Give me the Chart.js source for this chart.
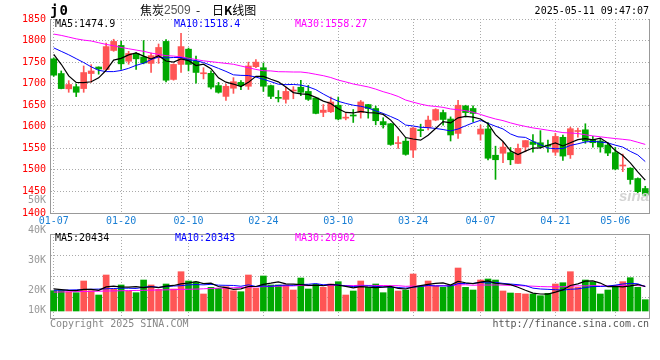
<!DOCTYPE html>
<html><head><meta charset="utf-8">
<script src="https://cdn.jsdelivr.net/npm/chart.js@4/dist/chart.umd.min.js"></script>
<style>
html,body{margin:0;padding:0;background:#fff;}
#wrap{position:relative;width:660px;height:360px;overflow:hidden;background:#fff;}
canvas{position:absolute;left:0;top:0;}
.t{position:absolute;white-space:nowrap;font-family:"DejaVu Sans Mono",monospace;font-size:10px;line-height:12px;}
</style></head><body>
<div id="wrap">
<canvas id="main" width="660" height="230"></canvas>
<canvas id="vol" width="660" height="360"></canvas>
<div class="t" style="left:50px;top:2px;font-size:14px;line-height:16px;font-weight:bold;letter-spacing:1px">j0</div>
<div class="t" style="left:140px;top:3px;font-family:'Noto Sans CJK SC';font-size:12px;line-height:14px">焦炭</div>
<div class="t" style="left:164px;top:3px;font-family:'Liberation Sans';font-size:12px;line-height:14px;color:#555">2509</div>
<div class="t" style="left:196px;top:3px;font-family:'Noto Sans CJK SC';font-size:12px;line-height:14px">-</div>
<div class="t" style="left:212px;top:3px;font-family:'Noto Sans CJK SC';font-size:12px;line-height:14px">日<b>K</b>线图</div>
<div class="t" style="right:11px;top:5px">2025-05-11 09:47:07</div>
<div class="t" style="left:55px;top:18px;color:#000">MA5:1474.9</div>
<div class="t" style="left:174px;top:18px;color:#0000ff">MA10:1518.4</div>
<div class="t" style="left:295px;top:18px;color:#ff00ff">MA30:1558.27</div>
<div class="t" style="left:55px;top:232px;color:#000">MA5:20434</div>
<div class="t" style="left:175px;top:232px;color:#0000ff">MA10:20343</div>
<div class="t" style="left:295px;top:232px;color:#ff00ff">MA30:20902</div>
<div class="t" style="left:50px;top:318px;color:#888">Copyright 2025 SINA.COM</div>
<div class="t" style="right:11px;top:318px;color:#555">http://finance.sina.com.cn</div>
<div class="t" style="left:619px;top:187px;font-family:'Liberation Sans';font-style:italic;font-weight:bold;font-size:15px;line-height:18px;color:#d4d4d4">sina</div>
</div>
<script>
const dates = ['01-07','01-08','01-09','01-10','01-13','01-14','01-15','01-16','01-17','01-20',
'01-21','01-22','01-23','01-24','01-27','02-05','02-06','02-07','02-10','02-11',
'02-12','02-13','02-14','02-17','02-18','02-19','02-20','02-21','02-24','02-25',
'02-26','02-27','02-28','03-03','03-04','03-05','03-06','03-07','03-10','03-11',
'03-12','03-13','03-14','03-17','03-18','03-19','03-20','03-21','03-24','03-25',
'03-26','03-27','03-28','03-31','04-01','04-02','04-03','04-07','04-08','04-09',
'04-10','04-11','04-14','04-15','04-16','04-17','04-18','04-21','04-22','04-23',
'04-24','04-25','04-28','04-29','04-30','05-06','05-07','05-08','05-09','05-12'];
const tickLabels = ['01-07','01-20','02-10','02-24','03-10','03-24','04-07','04-21','05-06'];

const open = [1757.6,1723.5,1688,1693,1688.6,1723.5,1738.6,1733,1777,1788.6,
1752,1770,1762,1747,1760,1798,1709.8,1744.7,1780,1752,
1723,1724,1695.5,1670.5,1689.4,1703,1694,1739.4,1737,1695.5,
1668,1663.6,1683,1691.7,1682,1666.7,1633.3,1634.8,1650,1620,
1627,1633,1651.5,1642.4,1612,1607,1561,1566.7,1546,1593,
1598,1615.5,1633,1618,1584.6,1648.5,1642.5,1583,1595,1534,
1538.6,1540,1515,1553,1565,1563,1556,1541,1575.6,1535,
1589,1593,1570,1567,1557.6,1540,1509,1504,1480,1456.8];
const high = [1760,1729.5,1707,1699,1741,1744,1739,1794,1803,1798,
1775,1772,1800,1771,1792,1802,1746,1817,1782.6,1764,
1737,1729.5,1703,1699,1714,1707,1750,1756,1748,1697,
1684,1692,1693,1708,1696,1667,1651.5,1669,1669,1631,
1640,1661,1652,1648,1621,1608,1577,1574,1599,1606,
1625,1642,1638.5,1623,1661.6,1650,1648.5,1604,1610,1555,
1564.4,1552,1560,1568,1582,1591,1569,1585,1581,1599,
1597,1607,1577.6,1572,1563,1552,1536.6,1505,1481.5,1462];
const low = [1717,1688,1680,1670,1680,1703,1722,1733,1775,1733,
1745,1733,1746,1726,1747,1704,1708,1726,1729.6,1701,
1711,1688,1678,1661,1677.5,1686,1686.6,1737,1682,1665,
1657.6,1655,1665,1672,1661,1630,1623.5,1633,1616,1616,
1610,1620,1620,1604.5,1597,1557,1550,1534,1529,1577,
1593,1614,1604,1567,1573,1623,1611.5,1569,1523,1478,
1517,1512,1515,1542,1541,1551,1541,1533.6,1522,1526.6,
1576,1561.6,1552.6,1541,1533,1500,1496,1467,1447,1441];
const close = [1719.7,1688.6,1698,1680,1725.8,1729.5,1734,1786,1798,1746,
1770,1757.6,1748,1765,1784,1708,1744.7,1786,1744.7,1726,
1725,1692,1680,1694,1704.5,1695.5,1741,1750,1694,1670.5,
1666,1682,1684,1680,1663.6,1631,1638.6,1657.6,1618,1621,
1625,1657.6,1642.4,1614,1604.5,1559,1562,1536,1597,1591,
1615.5,1640,1617,1581,1650,1633,1631,1594.7,1527,1523.5,
1553,1523.5,1550,1568,1559,1554,1555,1577.6,1532,1595.5,
1590,1567,1563,1553,1539,1502,1510,1477.6,1449.5,1441.7];
const volume = [19770,19800,19330,19100,23000,19770,18330,25000,20230,21670,
19670,19100,23330,21670,20230,22000,20330,26100,23000,22670,
18670,20900,20570,21100,19770,19430,25000,20570,24670,21670,
21670,21670,20000,24000,20330,21900,20900,22000,22770,18330,
19670,23000,20900,22000,19100,20900,19670,20000,25330,21330,
23000,21330,20900,21670,27330,20900,20000,23330,23670,23330,
19670,19000,18900,18670,18670,18100,18900,22000,22430,26100,
20900,23330,22570,18670,20000,21330,22770,24100,20900,16770];

// moving-average values before enough history exists
const ma5Head = [1768,1745,1718,1703];
const ma10Head = [1783,1775,1767,1758,1749,1739,1731,1728,1728];
const ma30Head = [1815,1812,1808,1804,1801,1799,1795,1791,1788,1784,1781,1778,1775,1771,1768,1765,1764,1762,1759,1756,1753,1751,1749,1747,1745,1741,1737,1733,1730];
const vma5Head = [20400,20150,19900,19800];
const vma10Head = [19900,19950,20000,20050,20150,20250,20300,20400,20500];
const vma30Head = [19300,19350,19400,19450,19500,19550,19600,19650,19700,19750,19800,19850,19900,19950,20000,20050,20100,20200,20250,20300,20400,20500,20600,20650,20750,20850,20950,21050,21100];
const volLabelValues = [10000,20000,30000,40000,50000];

function movingAvg(src, n, head){
  return src.map((v,i)=> i < n-1 ? head[i] : src.slice(i-n+1,i+1).reduce((a,b)=>a+b,0)/n);
}
const UP='#ff5555', DOWN='#00a800', GRID='#aaaaaa', FRAME='#999999';
const colors = close.map((c,i)=> c>=open[i] ? UP : DOWN);
const monoFont = {family:'DejaVu Sans Mono', size:10};
const gridColorX = ctx => tickLabels.includes(dates[ctx.index]) ? GRID : 'rgba(0,0,0,0)';

const frame = {
  id:'frame',
  afterDraw(chart, args, opts){
    const {ctx, chartArea:a} = chart;
    ctx.save();
    ctx.strokeStyle = FRAME; ctx.lineWidth = 1;
    ctx.beginPath();
    ctx.moveTo(Math.round(a.right)+0.5, a.top); ctx.lineTo(Math.round(a.right)+0.5, a.bottom+0.5);
    if (opts.top){ ctx.moveTo(a.left, Math.round(a.top)+0.5); ctx.lineTo(a.right, Math.round(a.top)+0.5); }
    ctx.stroke();
    ctx.restore();
  }
};

const lineDs = (data,color,w)=>({type:'line', data, borderColor:color, borderWidth:w, pointRadius:0, tension:0, order:0});

new Chart(document.getElementById('main'), {
  type:'bar',
  data:{labels:dates, datasets:[
    lineDs(movingAvg(close,5,ma5Head),'#000000',1.2),
    lineDs(movingAvg(close,10,ma10Head),'#0000ff',1),
    lineDs(movingAvg(close,30,ma30Head),'#ff00ff',1),
    {data:open.map((o,i)=>[o,close[i]]), backgroundColor:colors, barThickness:6, minBarLength:1, grouped:false, borderWidth:0, order:1},
    {data:low.map((l,i)=>[l,high[i]]), backgroundColor:colors, barThickness:1, grouped:false, borderWidth:0, order:2}
  ]},
  options:{
    responsive:false, animation:false, devicePixelRatio:1,
    layout:{padding:{top:19,right:11,left:0,bottom:0}},
    plugins:{legend:{display:false}, tooltip:{enabled:false}, frame:{top:false}},
    scales:{
      x:{offset:true,
         grid:{offset:false, color:gridColorX, drawTicks:false},
         border:{display:true, color:FRAME, dash:[1,2]},
         ticks:{autoSkip:false, maxRotation:0, minRotation:0, padding:2, color:'#1a7fd4', font:monoFont,
                callback:(v,i)=> tickLabels.includes(dates[i]) ? dates[i] : ''},
         afterFit:s=>{s.height=17;}},
      y:{min:1400, max:1850,
         ticks:{stepSize:50, color:'#ff0000', padding:4, font:monoFont, callback:v=>String(v)},
         grid:{color:GRID, drawTicks:false},
         border:{display:true, color:FRAME, dash:[1,2]},
         afterFit:s=>{s.width=50;}}
    }
  },
  plugins:[frame]
});

const volAxisLabels = {
  id:'volAxisLabels',
  afterDraw(chart){
    const s = chart.scales.y, ctx = chart.ctx;
    ctx.save();
    ctx.font = '10px "DejaVu Sans Mono"'; ctx.fillStyle = '#999'; ctx.textAlign='right'; ctx.textBaseline='middle';
    volLabelValues.forEach(v=>{
      const y = Math.min(s.getPixelForValue(v), chart.chartArea.bottom-7.5);
      ctx.fillText((v/1000)+'K', 46, y);
    });
    ctx.restore();
  }
};

new Chart(document.getElementById('vol'), {
  type:'bar',
  data:{labels:dates, datasets:[
    lineDs(movingAvg(volume,5,vma5Head),'#000000',1.2),
    lineDs(movingAvg(volume,10,vma10Head),'#0000ff',1),
    lineDs(movingAvg(volume,30,vma30Head),'#ff00ff',1),
    {data:volume, base:13000, backgroundColor:colors, barThickness:6, grouped:false, borderWidth:0, order:1}
  ]},
  options:{
    responsive:false, animation:false, devicePixelRatio:1,
    layout:{padding:{top:234,right:11,left:0,bottom:42}},
    plugins:{legend:{display:false}, tooltip:{enabled:false}, frame:{top:true}},
    scales:{
      x:{offset:true,
         grid:{offset:false, color:gridColorX, drawTicks:false},
         border:{display:true, color:FRAME, dash:[1,2]},
         ticks:{display:false, autoSkip:false},
         afterFit:s=>{s.height=0;}},
      y:{min:10667, max:38667,
         ticks:{display:false},
         afterBuildTicks:s=>{ s.ticks=[0,1,2,3,4].map(k=>({value:s.min+k*(s.max-s.min)/4})); },
         grid:{color:GRID, drawTicks:false},
         border:{display:true, color:FRAME, dash:[1,2]},
         afterFit:s=>{s.width=50;}}
    }
  },
  plugins:[frame, volAxisLabels]
});
</script>
</body></html>
